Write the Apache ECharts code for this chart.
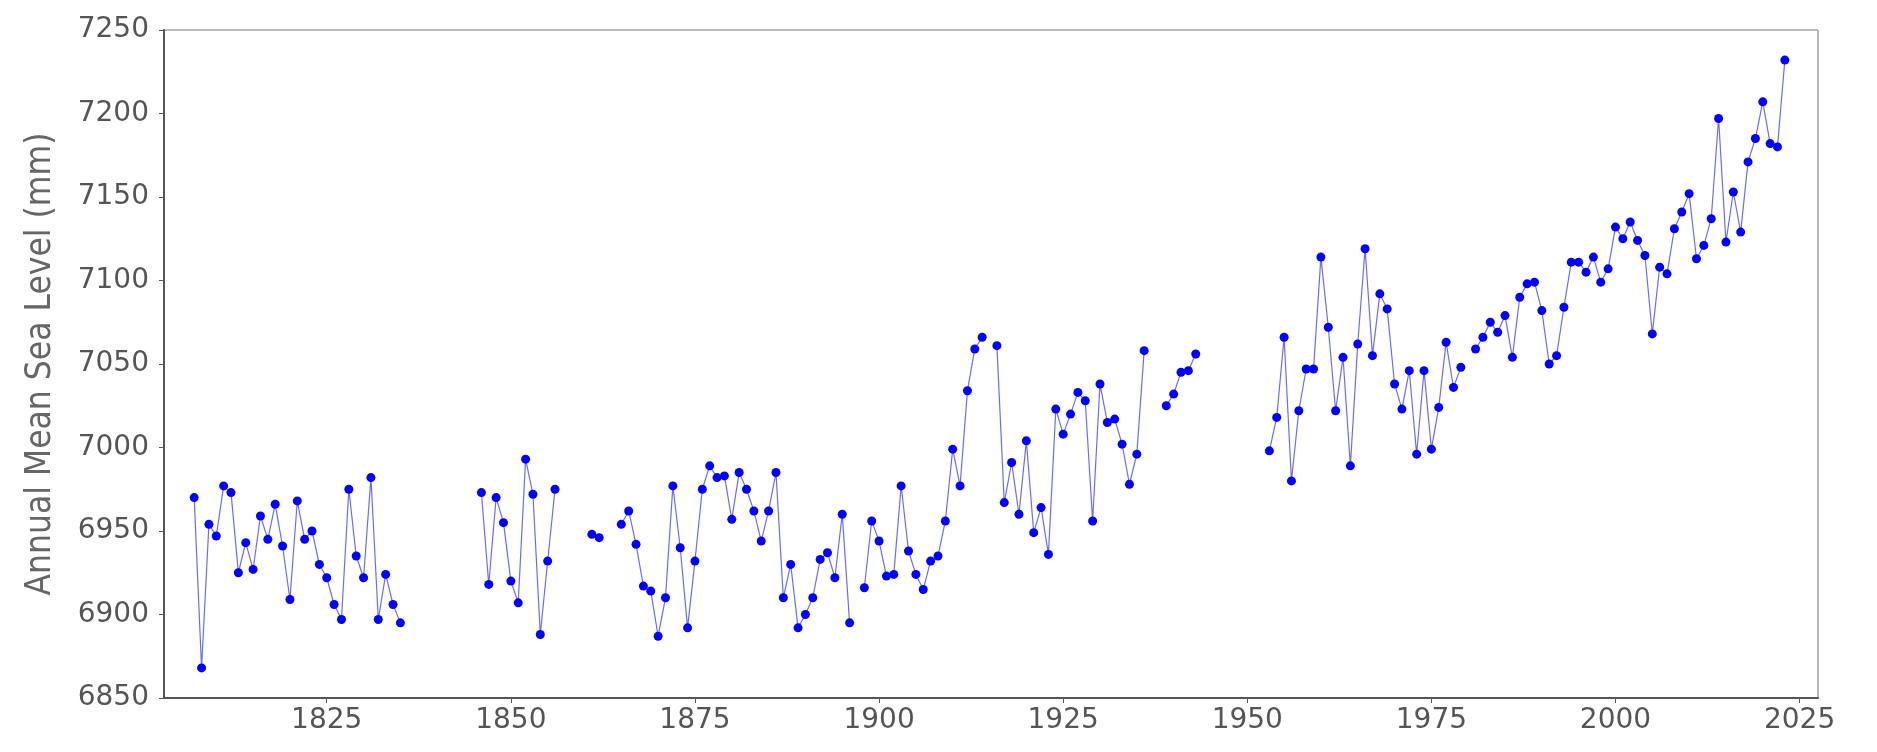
<!DOCTYPE html>
<html>
<head>
<meta charset="utf-8">
<script src="https://cdn.jsdelivr.net/npm/echarts@6/dist/echarts.min.js"></script>
<style>
  html, body { margin: 0; padding: 0; background: #fff; }
  #chart { width: 1877px; height: 752px; }
</style>
</head>
<body>
<div id="chart"></div>
<script>
// annual mean sea level, one value per year from firstYear, null = no data
const firstYear = 1807;
const seaLevel = [
  // 1807-1835
  6970, 6868, 6954, 6947, 6977, 6973, 6925, 6943, 6927, 6959,
  6945, 6966, 6941, 6909, 6968, 6945, 6950, 6930, 6922, 6906,
  6897, 6975, 6935, 6922, 6982, 6897, 6924, 6906, 6895,
  // 1836-1845
  null, null, null, null, null, null, null, null, null, null,
  // 1846-1856
  6973, 6918, 6970, 6955, 6920, 6907, 6993, 6972, 6888, 6932, 6975,
  // 1857-1864
  null, null, null, null, 6948, 6946, null, null,
  // 1865-1896
  6954, 6962, 6942, 6917, 6914, 6887, 6910, 6977, 6940, 6892,
  6932, 6975, 6989, 6982, 6983, 6957, 6985, 6975, 6962, 6944,
  6962, 6985, 6910, 6930, 6892, 6900, 6910, 6933, 6937, 6922,
  6960, 6895,
  // 1897-1914
  null, 6916, 6956, 6944, 6923, 6924, 6977, 6938, 6924, 6915,
  6932, 6935, 6956, 6999, 6977, 7034, 7059, 7066,
  // 1915-1936
  null, 7061, 6967, 6991, 6960, 7004, 6949, 6964, 6936, 7023,
  7008, 7020, 7033, 7028, 6956, 7038, 7015, 7017, 7002, 6978,
  6996, 7058,
  // 1937-1943
  null, null, 7025, 7032, 7045, 7046, 7056,
  // 1944-1952
  null, null, null, null, null, null, null, null, null,
  // 1953-1979
  6998, 7018, 7066, 6980, 7022, 7047, 7047, 7114, 7072, 7022,
  7054, 6989, 7062, 7119, 7055, 7092, 7083, 7038, 7023, 7046,
  6996, 7046, 6999, 7024, 7063, 7036, 7048,
  // 1980-2023
  null, 7059, 7066, 7075, 7069, 7079, 7054, 7090, 7098, 7099,
  7082, 7050, 7055, 7084, 7111, 7111, 7105, 7114, 7099, 7107,
  7132, 7125, 7135, 7124, 7115, 7068, 7108, 7104, 7131, 7141,
  7152, 7113, 7121, 7137, 7197, 7123, 7153, 7129, 7171, 7185,
  7207, 7182, 7180, 7232
];
const yearTicks = [1825, 1850, 1875, 1900, 1925, 1950, 1975, 2000, 2025];

let points = seaLevel.map(function (v, i) {
  return [firstYear + i, v === null ? '-' : v];
});

let chart = echarts.init(document.getElementById('chart'));
let axisFont = {
  color: '#555',
  fontFamily: 'DejaVu Sans',
  fontSize: 28
};
let option = {
  animation: false,
  grid: {
    left: 164,
    right: 59,
    top: 30,
    bottom: 54,
    show: true,
    borderColor: '#777',
    borderWidth: 1
  },
  xAxis: {
    type: 'value',
    min: 1802.9,
    max: 2027.5,
    splitLine: { show: false },
    axisLine: { show: true, onZero: false, lineStyle: { color: '#555', width: 2 } },
    axisTick: { show: true, length: 5, customValues: yearTicks, lineStyle: { color: '#555' } },
    axisLabel: Object.assign({
      margin: 9,
      customValues: yearTicks,
      formatter: function (v) { return String(v); }
    }, axisFont)
  },
  yAxis: {
    type: 'value',
    min: 6850,
    max: 7250,
    interval: 50,
    name: 'Annual Mean Sea Level (mm)',
    nameLocation: 'middle',
    nameGap: 106,
    nameTextStyle: {
      color: '#666',
      fontFamily: '"DejaVu Sans Condensed", "Liberation Sans Narrow", Roboto, sans-serif',
      fontSize: 35
    },
    splitLine: { show: false },
    axisLine: { show: true, lineStyle: { color: '#555', width: 2 } },
    axisTick: { show: true, length: 5, lineStyle: { color: '#555' } },
    axisLabel: Object.assign({
      margin: 15,
      formatter: function (v) { return String(v); }
    }, axisFont)
  },
  series: [
    {
      type: 'line',
      data: points,
      connectNulls: false,
      symbol: 'circle',
      symbolSize: 9,
      itemStyle: { color: '#0000ff' },
      lineStyle: { color: '#6b6bff', width: 1.2 }
    }
  ]
};
chart.setOption(option);
</script>
</body>
</html>
